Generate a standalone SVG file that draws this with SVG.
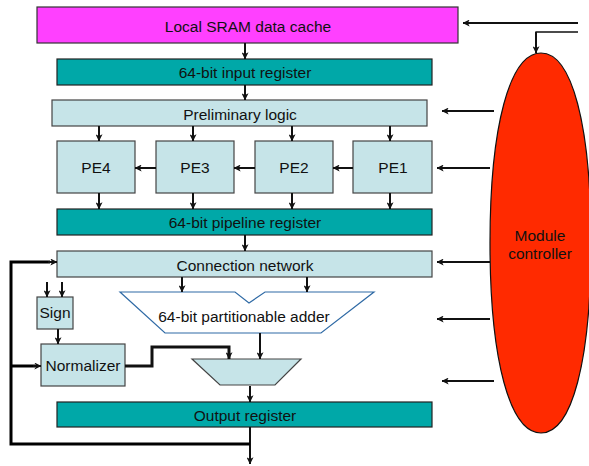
<svg xmlns="http://www.w3.org/2000/svg" width="589" height="466" viewBox="0 0 589 466">
  <defs>
    <marker id="arrow" viewBox="0 0 10 10" refX="9.5" refY="5" markerWidth="7" markerHeight="7" markerUnits="userSpaceOnUse" orient="auto">
      <path d="M0,0 L10,5 L0,10 L2.5,5 Z" fill="#111"/>
    </marker>
  </defs>
  <style>
    text { font-family: "Liberation Sans", Arial, sans-serif; font-size: 15.5px; fill: #111; text-anchor: middle; }
    .cache { fill: #ff40ff; stroke: #333; stroke-width: 1.2; }
    .reg { fill: #00a8a8; stroke: #222; stroke-width: 1.2; }
    .light { fill: #c6e4e8; stroke: #444; stroke-width: 1.2; }
    .adder { fill: #ffffff; stroke: #2f6aa5; stroke-width: 1.2; }
    .ctrl { fill: #ff2a00; stroke: #111; stroke-width: 1.2; }
    .wire { fill: none; stroke: #111; stroke-width: 2; marker-end: url(#arrow); }
    .bus { fill: none; stroke: #000; stroke-width: 3; }
    .thin { fill: none; stroke: #111; stroke-width: 1.3; }
  </style>

  <!-- module controller -->
  <g id="controller">
    <path class="ctrl" d="M541,53 C572,53 591,125 591,243 C591,361 572,433 541,433 C510,433 490,361 490,243 C490,125 510,53 541,53 Z"/>
    <text x="540" y="241">Module</text>
    <text x="540" y="259">controller</text>
  </g>

  <g id="sram">
    <rect class="cache" x="37" y="7" width="421" height="36"/>
    <text x="248" y="32">Local SRAM data cache</text>
  </g>

  <g id="input-register">
    <rect class="reg" x="57" y="59" width="375" height="26"/>
    <text x="245" y="78">64-bit input register</text>
  </g>

  <g id="preliminary-logic">
    <rect class="light" x="52" y="100" width="375" height="26"/>
    <text x="240" y="120">Preliminary logic</text>
  </g>

  <g id="pe4">
    <rect class="light" x="57" y="141" width="78" height="52"/>
    <text x="96" y="173">PE4</text>
  </g>
  <g id="pe3">
    <rect class="light" x="156" y="141" width="78" height="52"/>
    <text x="195" y="173">PE3</text>
  </g>
  <g id="pe2">
    <rect class="light" x="255" y="141" width="78" height="52"/>
    <text x="294" y="173">PE2</text>
  </g>
  <g id="pe1">
    <rect class="light" x="353" y="141" width="79" height="52"/>
    <text x="393" y="173">PE1</text>
  </g>

  <g id="pipeline-register">
    <rect class="reg" x="57" y="209" width="375" height="26"/>
    <text x="245" y="228">64-bit pipeline register</text>
  </g>

  <g id="connection-network">
    <rect class="light" x="57" y="251" width="375" height="26"/>
    <text x="245" y="271">Connection network</text>
  </g>

  <g id="adder">
    <polygon class="adder" points="120,292 235,292 249,303 265,292 374,292 321,333 165,333"/>
    <text x="244" y="322">64-bit partitionable adder</text>
  </g>

  <g id="sign">
    <rect class="light" x="37" y="297" width="36" height="32"/>
    <text x="55" y="318">Sign</text>
  </g>

  <g id="normalizer">
    <rect class="light" x="41" y="344" width="84" height="42"/>
    <text x="83" y="371">Normalizer</text>
  </g>

  <g id="mux">
    <polygon class="light" points="192,359 301,359 275,385 220,385"/>
  </g>

  <g id="output-register">
    <rect class="reg" x="57" y="402" width="375" height="25"/>
    <text x="245" y="421">Output register</text>
  </g>

  <g id="connectors">
    <!-- datapath, top to bottom -->
    <line class="wire" x1="245" y1="43" x2="245" y2="59"/>
    <line class="wire" x1="245" y1="85" x2="245" y2="100"/>
    <line class="wire" x1="99" y1="126" x2="99" y2="141"/>
    <line class="wire" x1="193" y1="126" x2="193" y2="141"/>
    <line class="wire" x1="292" y1="126" x2="292" y2="141"/>
    <line class="wire" x1="390" y1="126" x2="390" y2="141"/>
    <line class="wire" x1="156" y1="168" x2="135" y2="168"/>
    <line class="wire" x1="255" y1="168" x2="234" y2="168"/>
    <line class="wire" x1="353" y1="168" x2="333" y2="168"/>
    <line class="wire" x1="99" y1="193" x2="99" y2="209"/>
    <line class="wire" x1="193" y1="193" x2="193" y2="209"/>
    <line class="wire" x1="292" y1="193" x2="292" y2="209"/>
    <line class="wire" x1="390" y1="193" x2="390" y2="209"/>
    <line class="wire" x1="245" y1="235" x2="245" y2="251"/>
    <line class="wire" x1="182" y1="277" x2="182" y2="292"/>
    <line class="wire" x1="307" y1="277" x2="307" y2="292"/>
    <line class="wire" x1="260" y1="333" x2="260" y2="359"/>
    <line class="wire" x1="47" y1="282" x2="47" y2="297"/>
    <line class="wire" x1="62" y1="282" x2="62" y2="297"/>
    <line class="wire" x1="58" y1="329" x2="58" y2="344"/>
    <polyline class="wire" style="stroke-width:3" points="125,366 152,366 152,347 229,347 229,359"/>
    <line class="wire" x1="250" y1="386" x2="250" y2="402"/>
    <line class="wire" x1="250" y1="427" x2="250" y2="464"/>

    <!-- feedback from the output back to the network and normalizer -->
    <polyline class="bus" points="250,444 11,444 11,262 50,262"/>
    <line class="bus" x1="11" y1="366" x2="35" y2="366"/>
    <line class="wire" x1="48" y1="262" x2="57" y2="262"/>
    <line class="wire" x1="33" y1="366" x2="41" y2="366"/>

    <!-- control lines from the module controller -->
    <line class="wire" x1="578" y1="23" x2="463" y2="23"/>
    <polyline class="thin" points="578,32 536,32 536,40"/>
    <line class="wire" x1="536" y1="32" x2="536" y2="53"/>
    <line class="wire" x1="494" y1="111" x2="442" y2="111"/>
    <line class="wire" x1="490" y1="168" x2="437" y2="168"/>
    <line class="wire" x1="490" y1="262" x2="437" y2="262"/>
    <line class="wire" x1="490" y1="319" x2="437" y2="319"/>
    <line class="wire" x1="494" y1="381" x2="442" y2="381"/>
  </g>
</svg>
